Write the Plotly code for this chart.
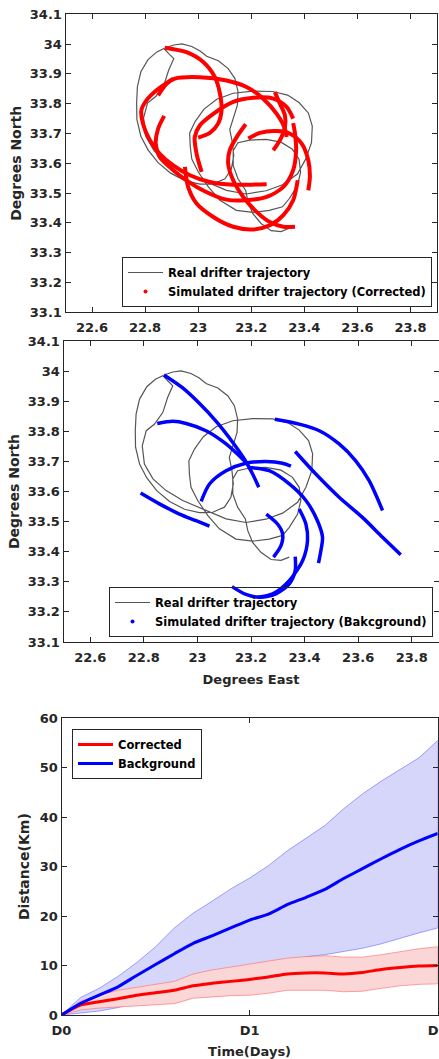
import plotly.graph_objects as go

# ---------------- DATA ----------------
# Real drifter trajectory (lon, lat)
real_drifter = [
    (22.875, 33.987), (22.908, 33.997), (22.939, 34.001), (22.976, 33.992), (23.007, 33.977),
    (23.032, 33.959), (23.076, 33.944), (23.113, 33.918), (23.138, 33.885), (23.150, 33.841),
    (23.148, 33.796), (23.132, 33.752), (23.119, 33.713), (23.129, 33.669), (23.134, 33.625),
    (23.125, 33.581), (23.101, 33.548), (23.057, 33.531), (23.007, 33.530), (22.952, 33.541),
    (22.896, 33.567), (22.848, 33.603), (22.811, 33.645), (22.784, 33.691), (22.769, 33.747),
    (22.768, 33.802), (22.771, 33.857), (22.784, 33.907), (22.811, 33.948), (22.843, 33.973),
    (22.871, 33.985), (22.889, 33.968), (22.908, 33.951), (22.889, 33.913), (22.871, 33.863),
    (22.840, 33.824), (22.809, 33.802), (22.794, 33.752), (22.802, 33.691), (22.834, 33.642),
    (22.883, 33.603), (22.945, 33.570), (23.020, 33.542), (23.107, 33.509), (23.181, 33.497),
    (23.256, 33.508), (23.318, 33.528), (23.374, 33.564), (23.405, 33.614), (23.427, 33.669),
    (23.430, 33.725), (23.415, 33.769), (23.380, 33.804), (23.337, 33.829), (23.281, 33.841),
    (23.206, 33.842), (23.132, 33.835), (23.070, 33.815), (23.022, 33.782), (22.989, 33.741),
    (22.968, 33.702), (22.970, 33.658), (22.976, 33.614), (23.001, 33.570), (23.039, 33.520),
    (23.082, 33.476), (23.144, 33.442), (23.206, 33.435), (23.268, 33.442), (23.318, 33.454),
    (23.343, 33.481), (23.374, 33.525), (23.386, 33.570), (23.380, 33.614), (23.355, 33.647),
    (23.312, 33.671), (23.256, 33.680), (23.194, 33.678), (23.150, 33.669), (23.132, 33.642),
    (23.132, 33.592), (23.150, 33.548), (23.179, 33.509), (23.188, 33.470), (23.206, 33.431),
    (23.237, 33.398), (23.275, 33.374), (23.312, 33.371), (23.343, 33.382),
]

# Simulated trajectories (Corrected)
corr_a = [(22.874, 33.988), (22.956, 33.973), (23.019, 33.940), (23.063, 33.889), (23.082, 33.834),
          (23.088, 33.778), (23.075, 33.733), (23.044, 33.702), (23.000, 33.686)]
corr_b = [(22.849, 33.828), (22.881, 33.867), (22.912, 33.884), (23.006, 33.889), (23.107, 33.878),
          (23.182, 33.856), (23.245, 33.817), (23.296, 33.766), (23.327, 33.716), (23.333, 33.688)]
corr_c = [(23.258, 33.530), (23.132, 33.528), (23.044, 33.537), (22.969, 33.560), (22.906, 33.593),
          (22.855, 33.632), (22.818, 33.677), (22.792, 33.733), (22.786, 33.778), (22.805, 33.811),
          (22.843, 33.845), (22.906, 33.884)]
corr_d = [(23.358, 33.735), (23.365, 33.699), (23.369, 33.644), (23.358, 33.577), (23.321, 33.521),
          (23.258, 33.487), (23.182, 33.476), (23.107, 33.478), (23.019, 33.509), (22.956, 33.543),
          (22.906, 33.577), (22.855, 33.621), (22.840, 33.666), (22.849, 33.716), (22.872, 33.759)]
corr_e = [(23.013, 33.571), (22.994, 33.632), (22.987, 33.688), (23.006, 33.727), (23.057, 33.766),
          (23.132, 33.806), (23.208, 33.820), (23.283, 33.817), (23.333, 33.789), (23.358, 33.750)]
corr_f = [(23.375, 33.543), (23.358, 33.476), (23.321, 33.426), (23.270, 33.392), (23.208, 33.378),
          (23.132, 33.387), (23.057, 33.420), (22.994, 33.465), (22.962, 33.521), (22.950, 33.588)]
corr_g = [(23.189, 33.683), (23.233, 33.702), (23.296, 33.708), (23.346, 33.699), (23.390, 33.666),
          (23.415, 33.610), (23.421, 33.554), (23.415, 33.509)]
corr_h = [(23.289, 33.839), (23.308, 33.800), (23.327, 33.761), (23.327, 33.722), (23.314, 33.688),
          (23.296, 33.660), (23.283, 33.644)]
corr_i = [(23.365, 33.387), (23.321, 33.387), (23.270, 33.403), (23.220, 33.437), (23.170, 33.487),
          (23.132, 33.543), (23.113, 33.599), (23.119, 33.644), (23.145, 33.688), (23.179, 33.731)]

# Simulated trajectories (Background)
bg_a = [(22.875, 33.987), (22.945, 33.944), (23.007, 33.893), (23.070, 33.833), (23.132, 33.763),
        (23.175, 33.708), (23.206, 33.658), (23.229, 33.614)]
bg_b = [(22.850, 33.826), (22.908, 33.833), (22.958, 33.826), (23.032, 33.802), (23.107, 33.758),
        (23.181, 33.697)]
bg_c = [(23.289, 33.840), (23.380, 33.824), (23.455, 33.802), (23.529, 33.758), (23.591, 33.702),
        (23.641, 33.636), (23.691, 33.537)]
bg_d = [(23.365, 33.733), (23.442, 33.658), (23.529, 33.581), (23.616, 33.514), (23.691, 33.448),
        (23.759, 33.390)]
bg_e = [(22.788, 33.595), (22.858, 33.559), (22.933, 33.525), (22.995, 33.503), (23.045, 33.485)]
bg_f = [(23.014, 33.567), (23.045, 33.625), (23.107, 33.669), (23.181, 33.694), (23.256, 33.700),
        (23.318, 33.694), (23.349, 33.684)]
bg_g = [(23.188, 33.680), (23.268, 33.669), (23.343, 33.625), (23.405, 33.570), (23.448, 33.503),
        (23.467, 33.448), (23.461, 33.404), (23.452, 33.362)]
bg_h = [(23.257, 33.525), (23.299, 33.492), (23.318, 33.459), (23.312, 33.420), (23.284, 33.382)]
bg_i = [(23.380, 33.542), (23.405, 33.492), (23.411, 33.437), (23.393, 33.371), (23.343, 33.304),
        (23.281, 33.260), (23.225, 33.249)]
bg_j = [(23.365, 33.384), (23.365, 33.337), (23.343, 33.293), (23.293, 33.260), (23.231, 33.249),
        (23.181, 33.258), (23.129, 33.284)]

corrected_tracks = [corr_a, corr_b, corr_c, corr_d, corr_e, corr_f, corr_g, corr_h, corr_i]
background_tracks = [bg_a, bg_b, bg_c, bg_d, bg_e, bg_f, bg_g, bg_h, bg_i, bg_j]

# Separation distance vs time
time_days = [0.0, 0.1, 0.2, 0.3, 0.4, 0.5, 0.6, 0.7, 0.8, 0.9, 1.0,
             1.1, 1.2, 1.3, 1.4, 1.5, 1.6, 1.7, 1.8, 1.9, 2.0]
corr_mean = [0, 2.0, 2.7, 3.3, 4.0, 4.5, 5.0, 5.9, 6.4, 6.8, 7.2,
             7.7, 8.3, 8.5, 8.5, 8.3, 8.6, 9.2, 9.6, 9.9, 10.0]
corr_upper = [0, 2.8, 4.0, 5.0, 5.6, 6.2, 6.8, 8.3, 9.1, 9.7, 10.3,
              11.0, 11.5, 11.8, 12.0, 11.7, 11.7, 12.2, 12.8, 13.4, 13.8]
corr_lower = [0, 1.0, 1.4, 1.7, 1.9, 2.1, 2.3, 3.4, 3.7, 3.9, 4.0,
              4.4, 5.0, 5.0, 5.0, 4.7, 4.8, 5.4, 5.9, 6.2, 6.3]
bg_mean = [0, 2.3, 4.0, 5.7, 8.0, 10.2, 12.4, 14.5, 16.0, 17.6, 19.2,
           20.4, 22.3, 23.8, 25.4, 27.6, 29.6, 31.6, 33.5, 35.2, 36.7]
bg_upper = [0, 3.5, 5.4, 7.8, 10.6, 13.8, 17.6, 20.6, 23.0, 25.5, 27.7,
            30.2, 33.2, 35.7, 38.3, 41.7, 44.7, 47.3, 49.7, 52.0, 55.5]
bg_lower = [0, 0.4, 0.8, 1.5, 2.5, 3.5, 4.5, 5.5, 6.5, 7.5, 8.5,
            9.5, 10.5, 11.8, 12.2, 12.8, 13.5, 14.4, 15.5, 16.6, 17.6]

lon_ticks = [22.6, 22.8, 23.0, 23.2, 23.4, 23.6, 23.8]
lon_labels = ["22.6", "22.8", "23", "23.2", "23.4", "23.6", "23.8"]
lat_ticks = [33.1, 33.2, 33.3, 33.4, 33.5, 33.6, 33.7, 33.8, 33.9, 34.0, 34.1]
lat_labels = ["33.1", "33.2", "33.3", "33.4", "33.5", "33.6", "33.7", "33.8", "33.9", "34", "34.1"]
day_ticks = [0, 1, 2]
day_labels = ["D0", "D1", "D2"]
dist_ticks = [0, 10, 20, 30, 40, 50, 60]

# ---------------- FIGURE ----------------
W, H = 439, 1059
FONT = "DejaVu Sans"
AX = "#262626"
GRAY = "#555555"
RED = "#ff0000"
BLUE = "#0000ff"

fig = go.Figure()


def add_path(pts, color, width, xa, ya, name=None, legend=None, shape="spline"):
    fig.add_trace(go.Scatter(
        x=[p[0] for p in pts], y=[p[1] for p in pts], mode="lines",
        line=dict(color=color, width=width, shape=shape, smoothing=0.8),
        name=name, showlegend=name is not None, legend=legend,
        xaxis=xa, yaxis=ya, hoverinfo="skip"))


# Panel 1: corrected
add_path(real_drifter, GRAY, 1.2, "x", "y", "Real drifter trajectory", "legend", shape="linear")
for tr in corrected_tracks:
    add_path(tr, RED, 4, "x", "y")
fig.add_trace(go.Scatter(x=[None], y=[None], mode="markers", marker=dict(color=RED, size=4),
                         name="Simulated drifter trajectory (Corrected)", legend="legend",
                         xaxis="x", yaxis="y"))

# Panel 2: background
add_path(real_drifter, GRAY, 1.2, "x2", "y2", "Real drifter trajectory", "legend2", shape="linear")
for tr in background_tracks:
    add_path(tr, BLUE, 3.5, "x2", "y2")
fig.add_trace(go.Scatter(x=[None], y=[None], mode="markers", marker=dict(color=BLUE, size=4),
                         name="Simulated drifter trajectory (Bakcground)", legend="legend2",
                         xaxis="x2", yaxis="y2"))

# Panel 3: separation distances
fig.add_trace(go.Scatter(
    x=time_days + time_days[::-1], y=bg_upper + bg_lower[::-1], fill="toself",
    fillcolor="rgb(214,214,250)", line=dict(color="rgba(110,110,255,0.8)", width=0.8),
    mode="lines", showlegend=False, xaxis="x3", yaxis="y3", hoverinfo="skip"))
fig.add_trace(go.Scatter(
    x=time_days + time_days[::-1], y=corr_upper + corr_lower[::-1], fill="toself",
    fillcolor="rgb(250,214,214)", line=dict(color="rgba(255,110,110,0.8)", width=0.8),
    mode="lines", showlegend=False, xaxis="x3", yaxis="y3", hoverinfo="skip"))
fig.add_trace(go.Scatter(x=time_days, y=corr_mean, mode="lines", name="Corrected",
                         line=dict(color=RED, width=3, shape="spline", smoothing=0.6),
                         legend="legend3", xaxis="x3", yaxis="y3"))
fig.add_trace(go.Scatter(x=time_days, y=bg_mean, mode="lines", name="Background",
                         line=dict(color=BLUE, width=3, shape="spline", smoothing=0.6),
                         legend="legend3", xaxis="x3", yaxis="y3"))

tickfont = dict(family=FONT, size=13, color=AX, weight="bold")
titlefont_v = dict(family=FONT, size=14, color=AX, weight="bold")
titlefont_h = dict(family=FONT, size=13, color=AX, weight="bold")
axis_common = dict(showline=True, linecolor=AX, linewidth=1, mirror="ticks", ticks="inside",
                   ticklen=5, tickcolor=AX, tickwidth=1, showgrid=False, zeroline=False,
                   tickfont=tickfont, automargin=False, ticklabeloverflow="allow")
xaxis_extra = dict(ticklabelstandoff=3)


def px_x(a, b):
    return [a / W, b / W]


def px_y(top, bottom):
    return [1 - bottom / H, 1 - top / H]


legend_font = dict(family=FONT, size=11.5, color="#000", weight="bold")

fig.update_layout(
    width=W, height=H, autosize=False,
    margin=dict(l=0, r=0, t=0, b=0, pad=0),
    paper_bgcolor="white", plot_bgcolor="white",
    font=dict(family=FONT, color=AX, weight="bold"),
    xaxis=dict(axis_common, **xaxis_extra, domain=px_x(65.5, 437), range=[22.5, 23.9],
               tickvals=lon_ticks, ticktext=lon_labels, anchor="y"),
    yaxis=dict(axis_common, domain=px_y(14.3, 312.3), range=[33.1, 34.1],
               tickvals=lat_ticks, ticktext=lat_labels, anchor="x",
               title=dict(text="Degrees North", font=titlefont_v, standoff=4)),
    xaxis2=dict(axis_common, **xaxis_extra, domain=px_x(63.5, 438.5), range=[22.5, 23.9],
                tickvals=lon_ticks, ticktext=lon_labels, anchor="y2",
                title=dict(text="Degrees East", font=titlefont_h, standoff=11)),
    yaxis2=dict(axis_common, domain=px_y(341, 642), range=[33.1, 34.1],
                tickvals=lat_ticks, ticktext=lat_labels, anchor="x2",
                title=dict(text="Degrees North", font=titlefont_v, standoff=4)),
    xaxis3=dict(axis_common, **xaxis_extra, domain=px_x(61.5, 437.7), range=[0, 2],
                tickvals=day_ticks, ticktext=day_labels, anchor="y3",
                title=dict(text="Time(Days)", font=titlefont_h, standoff=11)),
    yaxis3=dict(axis_common, domain=px_y(718.3, 1015), range=[0, 60],
                tickvals=dist_ticks, anchor="x3",
                title=dict(text="Distance(Km)", font=titlefont_v, standoff=6)),
    legend=dict(x=432 / W, y=1 - 307 / H, xanchor="right", yanchor="bottom",
                bgcolor="white", bordercolor=AX, borderwidth=1, itemwidth=35,
                font=legend_font),
    legend2=dict(x=433 / W, y=1 - 637 / H, xanchor="right", yanchor="bottom",
                 bgcolor="rgba(255,255,255,0)", bordercolor=AX, borderwidth=1, itemwidth=35,
                 font=legend_font),
    legend3=dict(x=72 / W, y=1 - 729 / H, xanchor="left", yanchor="top",
                 bgcolor="white", bordercolor=AX, borderwidth=1, itemwidth=35,
                 font=legend_font),
)

fig.write_html("out.html", config={"displayModeBar": False},
               post_script="document.body.style.margin='0';")
